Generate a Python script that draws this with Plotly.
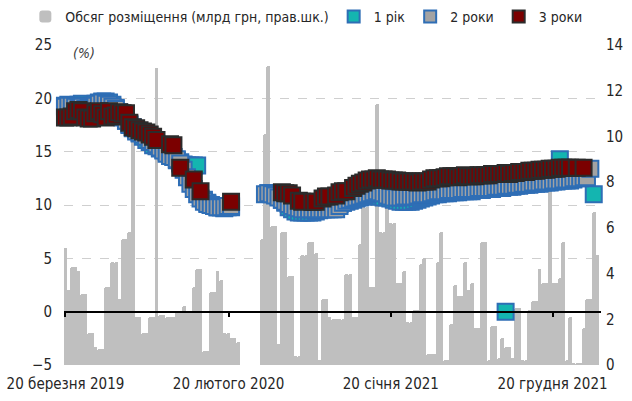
import pandas as pd
import plotly.graph_objects as go

# Weekly auction dates (x categories)
dates = pd.date_range("2019-03-19", periods=158, freq="7D")

# Placement volume, bn UAH (right axis)
volume = [5.1, 3.3, 4.3, 4.3, 4.1, 3.1, 3.1, 1.4, 1.4, 0.8,
          0.7, 0.7, 3.4, 3.4, 4.5, 4.5, 2.9, 5.5, 5.5, 5.8,
          9.9, 2.1, 2.1, 1.4, 1.4, 2.1, 2.1, 13.0, 2.2, 2.2,
          2.1, 2.1, 2.1, 2.3, 2.3, 2.6, 2.3, 2.3, 3.4, 4.2,
          4.2, 0.6, 0.6, 3.2, 3.2, 4.1, 3.7, 1.4, 1.4, 1.2,
          1.2, 1.0, None, None, None, None, None, None, 5.5, 10.1,
          13.1, 6.1, 6.1, 0.9, 5.8, 5.8, 3.9, 3.9, 0.4, 0.4,
          4.8, 4.8, 5.4, 5.4, 4.9, 0.2, 2.9, 2.9, 2.1, 2.0,
          2.0, 2.0, 2.0, 4.0, 4.0, 2.1, 2.1, 5.3, 6.9, 6.9,
          3.4, 3.4, 11.4, 5.8, 5.8, 7.3, 6.2, 6.2, 3.6, 3.6,
          4.1, 1.9, 1.9, 2.4, 2.4, 4.4, 4.7, 0.5, 0.5, 0.5,
          4.5, 5.8, 0.2, 0.2, 1.8, 3.5, 3.0, 3.0, 4.5, 3.3,
          3.6, 1.6, 1.6, 5.4, 5.4, 0.2, 1.7, 1.7, 0.3, 1.2,
          0.8, 0.8, 0.3, 2.5, 2.5, 0.2, 0.2, 2.4, 2.8, 2.8,
          4.2, 3.6, 3.6, 8.3, 3.6, 3.6, 3.8, 5.4, 0.2, 2.1,
          0.1, 0.1, 0.1, 1.6, 2.9, 2.9, 6.7, 4.8]

# Yields, % (left axis)
yield_1y = [19.3, 19.4, 19.2, 19.3, 19.4, 19.5, 19.3, 19.2, 19.3, 19.5,
            19.6, 19.7, 19.7, 19.6, 19.4, 19.1, 18.7, 18.3, 17.9, 17.6,
            17.3, 17.0, 16.7, 16.4, 16.1, 15.9, 15.6, 15.5, 15.3, 15.2,
            15.0, 14.8, 14.5, 14.2, 14.0, 13.8, 13.7, 13.7, 13.7, 13.7,
            None, 10.5, 10.2, 10.0, 9.9, 9.8, 9.8, 9.7, 9.8, 9.8,
            None, None, None, None, None, None, None, None, None, None,
            11.1, 11.1, 11.0, 10.8, 10.5, 10.2, 9.8, 9.6, 9.4, 9.3,
            9.3, 9.3, 9.3, 9.3, 9.4, 9.5, 9.6, 9.7, 9.8, 9.9,
            10.0, 10.1, 10.2, 10.3, 10.4, 10.5, 10.6, 10.7, 10.8, 10.9,
            10.9, 10.9, 10.8, 10.8, 10.7, 10.7, 10.6, 10.5, 10.4, 10.3,
            10.3, 10.3, 10.3, 10.4, 10.5, 10.6, 10.7, 10.8, 10.9, 11.0,
            11.0, 11.1, 11.1, 11.1, 11.2, 11.2, 11.2, 11.3, 11.3, 11.3,
            11.3, 11.4, 11.4, 11.4, 11.5, 11.5, 11.5, 11.6, 11.6, 11.6,
            0.0, 11.7, 11.7, 11.8, 11.8, 11.9, 11.9, 11.9, 12.0, 12.0,
            12.0, 12.1, 12.1, 12.1, 12.2, 12.2, 14.3, 12.3, 12.3, 12.3,
            12.4, None, None, None, None, None, 11.0, None]

yield_2y = [19.2, 19.3, 19.3, 19.2, 19.1, 19.2, 19.0, 19.1, 19.0, 19.3,
            19.5, 19.6, 19.5, 19.4, 19.2, 19.0, 18.6, 18.2, 17.9, 17.5,
            17.2, 16.9, 16.8, 16.6, 16.4, 16.1, 15.9, 15.7, 15.4, 15.1,
            14.8, 14.6, 14.5, 14.3, 13.9, 13.3, 12.6, 12.0, 11.5, 11.0,
            10.6, 10.3, 10.1, 10.0, 9.9, 9.8, 9.8, 9.8, 9.9, 9.9,
            None, None, None, None, None, None, None, None, None, 11.0,
            11.1, 11.0, 10.9, 10.7, 10.5, 10.3, 10.1, 9.9, 9.8, 9.7,
            9.6, 9.6, 9.6, 9.6, 9.6, 9.6, 9.6, 9.6, 9.6, 9.6,
            9.6, 9.9, 10.2, 10.4, 10.5, 10.6, 10.7, 10.8, 10.9, 11.0,
            11.1, 11.2, 11.3, 11.2, 11.1, 10.9, 10.8, 10.7, 10.7, 10.7,
            10.8, 10.8, 10.8, 10.8, 10.9, 11.0, 11.0, 11.0, 11.1, 11.2,
            11.3, 11.3, 11.3, 11.4, 11.4, 11.4, 11.4, 11.5, 11.5, 11.5,
            11.5, 11.5, 11.6, 11.6, 11.6, 11.6, 11.6, 11.7, 11.7, 11.7,
            11.8, 11.8, 11.8, 11.9, 11.9, 12.0, 12.0, 12.0, 12.1, 12.1,
            12.1, 12.2, 12.2, 12.2, 12.3, 12.3, 12.3, 12.4, 12.4, 12.4,
            12.5, 12.5, 12.5, 12.6, 12.6, 13.4, None, None]

yield_3y = [18.2, 18.2, 18.3, 18.8, 18.9, 18.8, 18.2, 18.1, 18.1, 18.6,
            18.8, 18.5, 18.2, 18.8, 18.3, 18.4, 18.7, 18.6, 18.6, 17.7,
            17.3, 17.2, 17.0, 16.9, 16.8, 16.6, 16.4, 16.1, None, None,
            None, 15.7, 15.6, None, 13.5, None, None, None, 12.4, None,
            11.3, None, None, None, None, None, None, None, None, 10.3,
            None, None, None, None, None, None, None, None, None, None,
            None, None, None, None, 11.2, 11.1, 11.1, 10.9, None, 10.4,
            10.3, None, None, 10.3, 10.3, None, 10.6, 10.8, 10.8, None,
            10.9, 11.2, 11.3, 11.3, None, 11.6, 11.8, 12.0, 12.1, 12.3,
            12.4, 12.4, 12.5, 12.4, 12.4, 12.4, 12.3, 12.3, 12.3, 12.2,
            12.2, 12.2, 12.2, 12.2, 12.1, 12.2, 12.2, 12.2, 12.4, 12.5,
            12.5, 12.5, 12.6, 12.7, 12.7, 12.7, 12.6, 12.7, 12.8, 12.7,
            12.7, 12.7, 12.8, 12.8, 12.8, 12.8, 12.9, 12.9, 12.9, 12.9,
            13.0, 12.9, 13.0, 13.0, 13.1, 13.1, 13.1, 13.2, 13.2, 13.2,
            13.3, 13.3, 13.3, 13.4, 13.4, 13.4, 13.5, 13.5, 13.5, 13.5,
            None, 13.5, None, 13.5, None, None, None, None]

tick_dates = ["2019-03-20", "2020-02-20", "2021-01-20", "2021-12-20"]
tick_labels = ["20 березня 2019", "20 лютого 2020", "20 січня 2021", "20 грудня 2021"]
x_range = ["2019-03-17", "2022-03-30"]

FONT = "Liberation Sans Narrow, Arial Narrow, DejaVu Sans Condensed, Roboto Condensed, sans-serif"
TXT = "#262626"

fig = go.Figure()
fig.add_trace(go.Bar(
    x=dates, y=volume, name="Обсяг розміщення (млрд грн, прав.шк.)",
    marker=dict(color="#BFBFBF", cornerradius=2, line=dict(width=0)),
    width=8 * 24 * 3600 * 1000, xaxis="x", yaxis="y",
))
fig.add_trace(go.Scatter(
    x=dates, y=yield_1y, name="1 рік", mode="markers", cliponaxis=False,
    marker=dict(symbol="square", size=16, color="#14B5B0", line=dict(color="#2F6EB5", width=2)),
    xaxis="x2", yaxis="y2",
))
fig.add_trace(go.Scatter(
    x=dates, y=yield_2y, name="2 роки", mode="markers", cliponaxis=False,
    marker=dict(symbol="square", size=16, color="#A3A3A3", line=dict(color="#2F6EB5", width=2)),
    xaxis="x2", yaxis="y2",
))
fig.add_trace(go.Scatter(
    x=dates, y=yield_3y, name="3 роки", mode="markers", cliponaxis=False,
    marker=dict(symbol="square", size=16, color="#7B0000", line=dict(color="#2B2B2B", width=2)),
    xaxis="x2", yaxis="y2",
))

fig.update_layout(
    width=632, height=401,
    margin=dict(l=64, r=31, t=45, b=36, autoexpand=False),
    paper_bgcolor="white", plot_bgcolor="white",
    font=dict(family=FONT, size=15, color=TXT),
    bargap=0,
    showlegend=True,
    legend=dict(orientation="h", x=-0.072, y=1.0875, xanchor="left", yanchor="middle",
                font=dict(family=FONT, size=14, color=TXT), bgcolor="rgba(0,0,0,0)",
                itemwidth=30, tracegroupgap=0, itemsizing="constant"),
    xaxis=dict(type="date", range=x_range, tickvals=tick_dates, ticktext=tick_labels,
               showgrid=False, zeroline=False, showline=False, ticks="",
               ticklabelstandoff=8, tickfont=dict(size=15)),
    xaxis2=dict(type="date", range=x_range, overlaying="x", anchor="free", position=1/6,
                tickvals=tick_dates, showticklabels=False, showgrid=False, zeroline=False,
                showline=True, linecolor="#000000", linewidth=2,
                ticks="outside", ticklen=4, tickwidth=2, tickcolor="#000000"),
    yaxis=dict(side="right", range=[0, 14], tickvals=[0, 2, 4, 6, 8, 10, 12, 14],
               showgrid=False, zeroline=False, showline=False, ticks="",
               ticklabelstandoff=4, tickfont=dict(size=15)),
    yaxis2=dict(side="left", overlaying="y", range=[-5, 25], tickvals=[-5, 0, 5, 10, 15, 20, 25],
                showgrid=True, gridcolor="#CFCFCF", griddash="dash", gridwidth=1,
                zeroline=False, showline=False, ticks="", ticklabelstandoff=11,
                tickfont=dict(size=15)),
    annotations=[dict(text="<i>(%)</i>", xref="paper", yref="paper", x=0.013, y=0.975,
                      xanchor="left", yanchor="middle", showarrow=False,
                      font=dict(family=FONT, size=14, color="#404040"))],
)

fig.write_html("out.html", config={"displayModeBar": False},
               post_script="document.body.style.margin='0';")
